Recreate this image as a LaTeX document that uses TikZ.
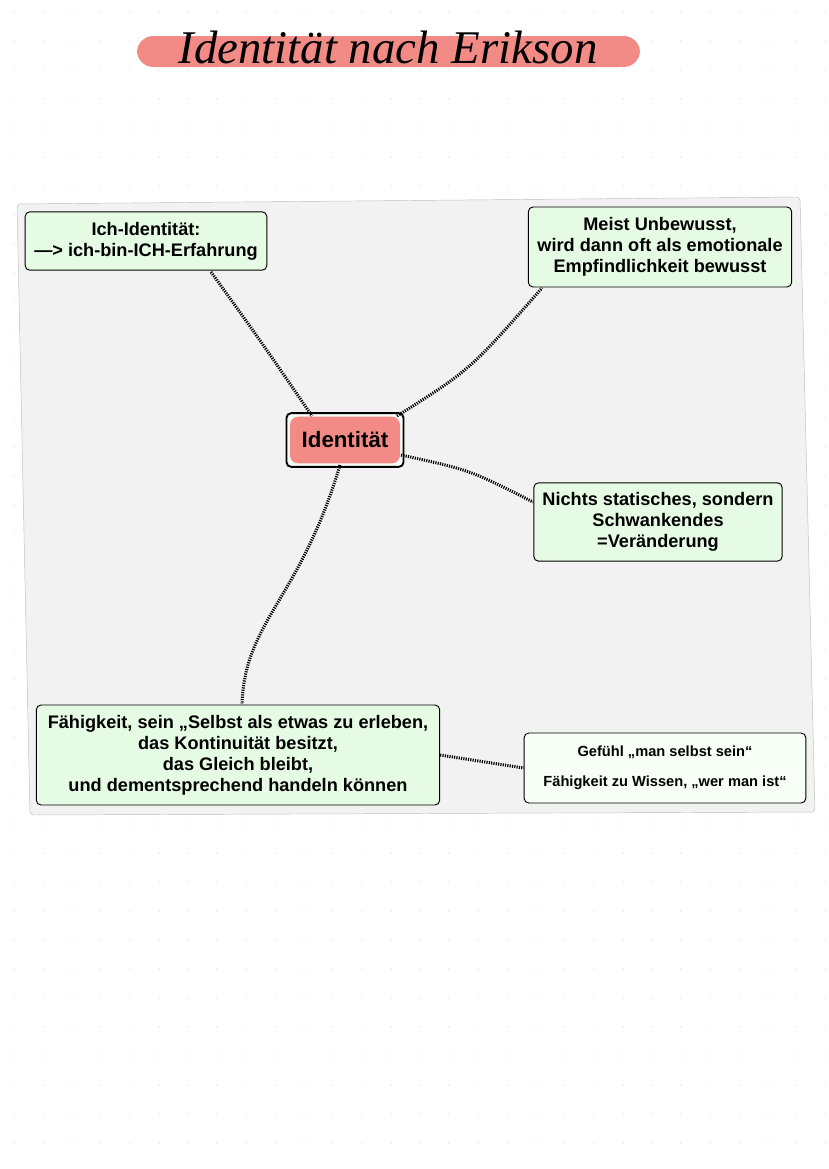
\documentclass[tikz,border=0pt]{standalone}
\usepackage{fontspec}
\setmainfont{Liberation Sans}
\newfontfamily\titlefont{Liberation Serif}
\usetikzlibrary{positioning}
\definecolor{boxgreen}{HTML}{E6FBE3}
\definecolor{hilite}{HTML}{F28B86}
\begin{document}
\begin{tikzpicture}[x=0.03cm, y=-0.03cm]
\tikzset{ >=latex,
  idea/.style={draw, thick, rounded corners=4pt, fill=boxgreen, align=center,
    font=\bfseries\fontsize{15.5}{18}\selectfont, inner sep=3pt},
  link/.style={line width=2.6pt, dash pattern=on 1pt off 1pt},
}

\useasboundingbox (0,0) rectangle (828,1169);
\fill [white] (0,0) rectangle (828,1169);

% dotted paper
\foreach \i in {0,...,28}
  \foreach \j in {0,...,40}
    \fill [gray!40] (14+29*\i, 12+29*\j) circle (0.6pt);

% title
\fill [hilite, rounded corners=14pt] (137,36) rectangle (640,67);
\node (title) at (388,47) {\titlefont\fontsize{40}{42}\selectfont\itshape Identität nach Erikson};

% panel
\draw [gray!50, fill=gray!10, rounded corners=3pt]
  (17,204) -- (800,197) -- (815,812) -- (30,815) -- cycle;

\node [idea, minimum width=7.25cm, minimum height=1.75cm] (ich) at (146,241)
  {Ich-Identität:\\—> ich-bin-ICH-Erfahrung};
\node [idea, minimum width=7.9cm, minimum height=2.4cm] (unbew) at (660,247)
  {Meist Unbewusst,\\wird dann oft als emotionale\\Empfindlichkeit bewusst};
\node [idea, fill=boxgreen!40, line width=1.6pt, minimum width=3.3cm, minimum height=1.4cm,
  font=\bfseries\fontsize{19}{21}\selectfont] (ident) at (345,440)
  {\tikz[baseline=(w.base)]{\node[fill=hilite, rounded corners=7pt, inner sep=2pt] (w) {Identität};}};
\node [idea, minimum width=7.45cm, minimum height=2.35cm] (schwank) at (658,522)
  {Nichts statisches, sondern\\Schwankendes\\=Veränderung};
\node [idea, minimum width=12.1cm, minimum height=3cm] (faehig) at (238,755)
  {Fähigkeit, sein „Selbst als etwas zu erleben,\\das Kontinuität besitzt,\\das Gleich bleibt,\\und dementsprechend handeln können};
\node [idea, fill=green!3, font=\bfseries\fontsize{12.5}{26}\selectfont,
  minimum width=8.45cm, minimum height=2.1cm] (gefuehl) at (665,768)
  {Gefühl „man selbst sein“\\Fähigkeit zu Wissen, „wer man ist“};

\draw [link] (211,272) .. controls (260,340) .. (312,416);
\draw [link] (397,416) .. controls (470,370) .. (542,288);
\draw [link] (401,455) .. controls (470,470) .. (533,502);
\draw [link] (340,465) .. controls (300,600) and (245,620) .. (242,704);
\draw [link] (faehig.east) -- (gefuehl.west);
\end{tikzpicture}
\end{document}
